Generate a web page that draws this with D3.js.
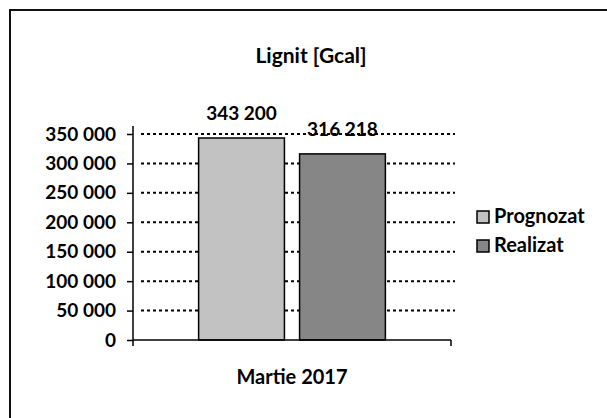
<!DOCTYPE html>
<html>
<head>
<meta charset="utf-8">
<script src="https://cdn.jsdelivr.net/npm/d3@7"></script>
<style>
  body { margin: 0; background: #fff; }
  text { font-family: Lato, 'Open Sans', sans-serif; font-weight: bold; fill: #000; }
</style>
</head>
<body>
<script>
const categories = ['Martie 2017']
const seriesNames = ['Prognozat', 'Realizat']
const seriesValues = [343200, 316218]
const seriesColors = ['#c2c2c2', '#868686']
const tickValues = [0, 50000, 100000, 150000, 200000, 250000, 300000, 350000]

const width = 607
const height = 418
const plotLeft = 133
const plotRight = 451
const plotTop = 134
const plotBottom = 340

const fmt = function (d) {
  return d3.format(',')(d).replace(/,/g, ' ')
}

const svg = d3.select('body').append('svg')
  .attr('width', width)
  .attr('height', height)

// outer frame (only top and left edges show)
svg.append('path')
  .attr('d', `M10,${height} L10,10 L${width},10`)
  .attr('fill', 'none')
  .attr('stroke', '#111')
  .attr('stroke-width', 2)

svg.append('text')
  .attr('x', 311)
  .attr('y', 63)
  .attr('text-anchor', 'middle')
  .attr('font-size', '21px')
  .text('Lignit [Gcal]')

const y = d3.scaleLinear().domain([0, 350000]).range([plotBottom, plotTop])
const x0 = d3.scaleBand().domain(categories).range([plotLeft, plotRight])
const x1 = d3.scaleBand().domain(seriesNames)
  .range([0, x0.bandwidth()]).paddingInner(0.15).paddingOuter(0.65)

// dotted gridlines
svg.append('g').selectAll('line')
  .data(tickValues.filter(d => d > 0))
  .enter().append('line')
  .attr('x1', plotLeft + 8)
  .attr('x2', plotRight + 4)
  .attr('y1', d => y(d))
  .attr('y2', d => y(d))
  .attr('stroke', '#000')
  .attr('stroke-width', 2)
  .attr('stroke-dasharray', '3,3')

const yAxis = svg.append('g')
  .attr('transform', `translate(${plotLeft},0)`)
  .call(d3.axisLeft(y).tickValues(tickValues).tickFormat(fmt).tickSize(6).tickPadding(11))
yAxis.select('.domain').remove()
yAxis.selectAll('line').attr('stroke', '#000').attr('stroke-width', 1.5)
yAxis.selectAll('text').attr('font-size', '19px').attr('font-family', 'Lato, sans-serif')

svg.append('line')
  .attr('x1', plotLeft).attr('x2', plotLeft)
  .attr('y1', plotTop - 8).attr('y2', plotBottom + 6)
  .attr('stroke', '#000').attr('stroke-width', 1.5)

const bars = seriesNames.map((s, i) => ({ name: s, value: seriesValues[i], color: seriesColors[i] }))

svg.append('g').selectAll('rect')
  .data(bars)
  .enter().append('rect')
  .attr('x', d => x0(categories[0]) + x1(d.name))
  .attr('y', d => y(d.value))
  .attr('width', x1.bandwidth())
  .attr('height', d => plotBottom - y(d.value))
  .attr('fill', d => d.color)
  .attr('stroke', '#000')
  .attr('stroke-width', 1.5)

svg.append('g').selectAll('text')
  .data(bars)
  .enter().append('text')
  .attr('x', d => x0(categories[0]) + x1(d.name) + x1.bandwidth() / 2)
  .attr('y', d => y(d.value) - 18)
  .attr('text-anchor', 'middle')
  .attr('font-size', '19px')
  .text(d => fmt(d.value))

// x axis
svg.append('line')
  .attr('x1', plotLeft).attr('x2', plotRight)
  .attr('y1', plotBottom).attr('y2', plotBottom)
  .attr('stroke', '#000').attr('stroke-width', 1.5)
svg.append('line')
  .attr('x1', plotRight).attr('x2', plotRight)
  .attr('y1', plotBottom).attr('y2', plotBottom + 6)
  .attr('stroke', '#000').attr('stroke-width', 1.5)

svg.append('text')
  .attr('x', x0(categories[0]) + x0.bandwidth() / 2)
  .attr('y', 384)
  .attr('text-anchor', 'middle')
  .attr('font-size', '20px')
  .text(categories[0])

// legend
const legend = svg.append('g').selectAll('g')
  .data(bars)
  .enter().append('g')
  .attr('transform', (d, i) => `translate(477,${211 + i * 29})`)
legend.append('rect')
  .attr('width', 12).attr('height', 12)
  .attr('fill', d => d.color)
  .attr('stroke', '#000').attr('stroke-width', 1.5)
legend.append('text')
  .attr('x', 17).attr('y', 12)
  .attr('font-size', '20px')
  .text(d => d.name)
</script>
</body>
</html>
